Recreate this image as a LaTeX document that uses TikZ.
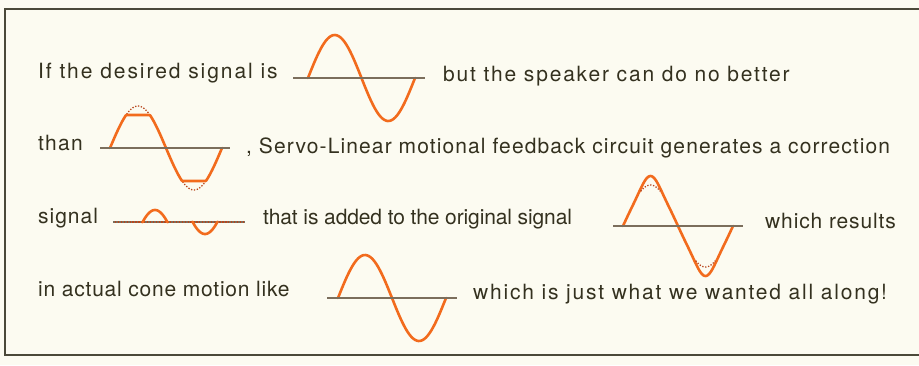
\documentclass[tikz,border=0pt]{standalone}
\usepackage{fontspec}
\setmainfont{TeX Gyre Heros}
\definecolor{paper}{HTML}{FCFBF1}
\definecolor{ink}{HTML}{34311F}
\definecolor{wave}{HTML}{F26B1D}
\definecolor{dots}{HTML}{B8461E}
\definecolor{axisc}{HTML}{7B6E5C}
\definecolor{frame}{HTML}{4B4939}

\begin{document}
\begin{tikzpicture}[x=1pt,y=-1pt,
  words/.style={anchor=base west,inner sep=0pt,text=ink,font=\fontsize{21}{25}\selectfont\addfontfeature{LetterSpace=#1}},
  words/.default=6,
  zeroline/.style={axisc,line width=1.1pt},
  sig/.style={wave,line width=2.6pt,line cap=round,line join=round},
  ideal/.style={dots,line width=1.3pt,dash pattern=on 1.3pt off 1.6pt}]

\fill[paper] (0,0) rectangle (919,365);
\useasboundingbox (0,0) rectangle (919,365);
\draw[frame,line width=1.6pt] (919,9) -- (5,9) -- (5,355) -- (919,355);

\node[words=9.2] (desired) at (38,78) {If the desired signal is};
\node[words=8.6] (nobetter) at (443,81) {but the speaker can do no better};
\node[words=6] (than) at (38,150) {than};
\node[words=5.3] (servo) at (246,153) {, Servo-Linear motional feedback circuit generates a correction};
\node[words=4.7] (signal) at (38,223) {signal};
\node[words=-0.6] (added) at (263,224) {that is added to the original signal};
\node[words=4.1] (results) at (765,228) {which results};
\node[words=3.7] (actual) at (38,296) {in actual cone motion like};
\node[words=8.5] (wanted) at (473,299) {which is just what we wanted all along!};

\draw[sig] plot[domain=0:360,samples=60] ({308+\x/360*107},{78-43*sin(\x)});
\draw[zeroline] (293,78) -- (425,78);

\draw[ideal] plot[domain=0:360,samples=60] ({110+\x/360*112},{148-42*sin(\x)});
\draw[sig] plot[domain=0:360,samples=121] ({110+\x/360*112},{148-max(-33,min(33,42*sin(\x)))});
\draw[zeroline] (100,148) -- (230,148);

\draw[zeroline] (113,222) -- (245,222);
\draw[ideal] (115,222) -- (245,222);
\draw[sig] plot[domain=45:135,samples=30] ({130+\x/360*100},{222-(42*sin(\x)-30)});
\draw[sig] plot[domain=225:315,samples=30] ({130+\x/360*100},{222-(42*sin(\x)+30)});

\draw[sig] plot[domain=0:360,samples=90] ({623+\x/360*110},{226-38*sin(\x)-12*sin(\x)*sin(\x)*sin(\x)*sin(\x)*sin(\x)});
\draw[ideal] plot[domain=58:122,samples=20] ({623+\x/360*110},{226-41*sin(\x)});
\draw[ideal] plot[domain=238:302,samples=20] ({623+\x/360*110},{226-41*sin(\x)});
\draw[zeroline] (613,226) -- (743,226);

\draw[sig] plot[domain=0:360,samples=60] ({338+\x/360*108},{298-43*sin(\x)});
\draw[zeroline] (327,298) -- (457,298);
\end{tikzpicture}
\end{document}
